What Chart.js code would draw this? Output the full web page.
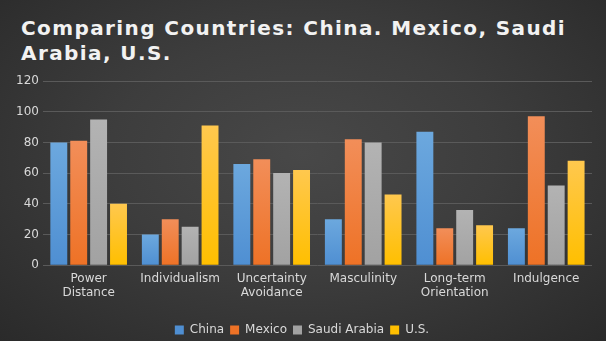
<!DOCTYPE html>
<html>
<head>
<meta charset="utf-8">
<script src="https://cdn.jsdelivr.net/npm/chart.js@4"></script>
<style>
  html, body { margin: 0; padding: 0; }
  body {
    width: 606px; height: 341px; overflow: hidden; position: relative;
    background: radial-gradient(ellipse at 50% 45%, #484848 0%, #3d3d3d 45%, #2a2a2a 100%);
    font-family: "DejaVu Sans", sans-serif;
  }
  #title {
    position: absolute; left: 21px; top: 16px; width: 570px;
    margin: 0; color: #f2f2f2; font-size: 20px; font-weight: bold;
    letter-spacing: 1.4px; line-height: 24.5px;
  }
  #wrap { position: absolute; left: 0; top: 0; width: 606px; height: 341px; }
</style>
</head>
<body>
<h1 id="title">Comparing Countries: China. Mexico, Saudi Arabia, U.S.</h1>
<div id="wrap"><canvas id="chart" width="606" height="341"></canvas></div>
<script>
// -------- Data ----------
const categories = [["Power", "Distance"], "Individualism", ["Uncertainty", "Avoidance"], "Masculinity", ["Long-term", "Orientation"], "Indulgence"];
const china = [80, 20, 66, 30, 87, 24];
const mexico = [81, 30, 69, 82, 24, 97];
const saudi = [95, 25, 60, 80, 36, 52];
const us = [40, 91, 62, 46, 26, 68];
const yTicks = [0, 20, 40, 60, 80, 100, 120];

// base colour + lighter top for each series
const COLORS = {
  China: ["#4f8fd2", "#6ca8de"],
  Mexico: ["#ee7226", "#f28e59"],
  "Saudi Arabia": ["#a2a2a2", "#b3b3b3"],
  "U.S.": ["#ffbf00", "#ffc84e"]
};

function barFill(name) {
  return (ctx) => {
    const chart = ctx.chart;
    const [base, top] = COLORS[name];
    if (!chart.chartArea || !chart.scales.y || !ctx.parsed) return base;
    const y0 = chart.scales.y.getPixelForValue(ctx.parsed.y);
    const y1 = chart.scales.y.getPixelForValue(0);
    if (!isFinite(y0) || y1 - y0 < 1) return base;
    const g = chart.ctx.createLinearGradient(0, y0, 0, y1);
    g.addColorStop(0, top);
    g.addColorStop(1, base);
    return g;
  };
}

function ds(label, data) {
  return { label, data, backgroundColor: barFill(label), borderWidth: 0,
           barPercentage: 0.85, categoryPercentage: 0.87 };
}

const FONT = { family: "'DejaVu Sans', sans-serif", size: 12 };
const TEXT = "#d9d9d9";

new Chart(document.getElementById("chart"), {
  type: "bar",
  data: {
    labels: categories,
    datasets: [ds("China", china), ds("Mexico", mexico), ds("Saudi Arabia", saudi), ds("U.S.", us)]
  },
  options: {
    responsive: false,
    animation: false,
    devicePixelRatio: 1,
    layout: { padding: { top: 81, left: 12, right: 14, bottom: -5 } },
    scales: {
      y: {
        min: 0, max: 120,
        afterBuildTicks: (s) => { s.ticks = yTicks.map(v => ({ value: v })); },
        ticks: { color: TEXT, font: FONT, padding: 4 },
        grid: { color: "#5a5a5a", lineWidth: 1, drawTicks: false },
        border: { display: false }
      },
      x: {
        ticks: { color: TEXT, font: { ...FONT, lineHeight: 1.2 }, padding: 6, maxRotation: 0, autoSkip: false },
        grid: { display: false, drawTicks: false },
        border: { display: false },
        afterFit: (s) => { s.height += 12; }
      }
    },
    plugins: {
      title: { display: false },
      tooltip: { enabled: false },
      legend: {
        position: "bottom",
        labels: {
          color: TEXT, font: FONT, boxWidth: 9, boxHeight: 9, padding: 6,
          generateLabels: (chart) => chart.data.datasets.map((d, i) => ({
            text: d.label, fillStyle: COLORS[d.label][0], strokeStyle: COLORS[d.label][0],
            lineWidth: 0, hidden: false, datasetIndex: i, fontColor: TEXT
          }))
        }
      }
    }
  }
});
</script>
</body>
</html>
